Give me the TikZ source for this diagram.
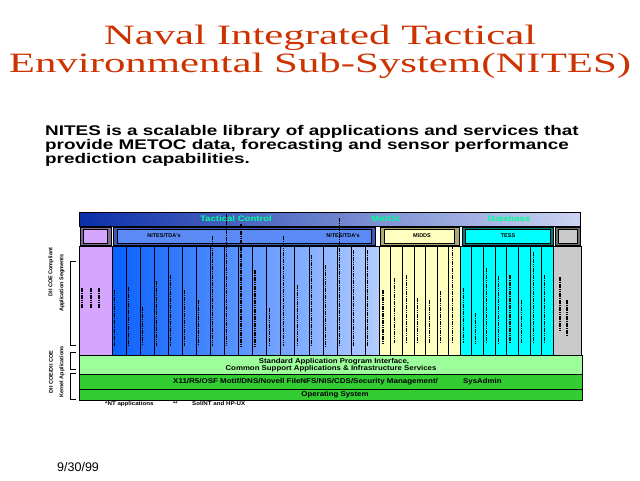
\documentclass[tikz,border=0pt]{standalone}
\usepackage{fontspec}
\setmainfont{Liberation Serif}
\newfontfamily\arialfont{Liberation Sans}
\newcommand{\widen}[2][1.12]{\scalebox{#1}[1]{#2}}
\definecolor{titlered}{HTML}{CC3300}
\definecolor{tcleft}{HTML}{0A2EA8}
\definecolor{tcright}{HTML}{CCD4F2}
\definecolor{tctext}{HTML}{00FF99}
\definecolor{blueleft}{HTML}{0860FF}
\definecolor{blueright}{HTML}{B4CCFF}
\definecolor{bluetab}{HTML}{5B8AF5}
\definecolor{blueframe}{HTML}{3A58B8}
\definecolor{purplecol}{HTML}{D6A6FF}
\definecolor{purpleframe}{HTML}{7F6A95}
\definecolor{yellowcol}{HTML}{FFFFC0}
\definecolor{yellowframe}{HTML}{A8A878}
\definecolor{cyancol}{HTML}{00FFFF}
\definecolor{cyanframe}{HTML}{007C7C}
\definecolor{greycol}{HTML}{CACACA}
\definecolor{greyframe}{HTML}{707070}
\definecolor{lightgreen}{HTML}{9CFF9C}
\definecolor{kgreen}{HTML}{33CC33}
\begin{document}
\begin{tikzpicture}[x=1pt, y=-1pt,
    band/.style={draw, anchor=north west, inner sep=0pt, outer sep=0pt},
    tab/.style={draw, anchor=north west, inner sep=0pt, outer sep=0pt, minimum height=18pt},
    tabin/.style={draw, inner sep=0pt, minimum height=14pt},
    glyph/.style={line width=1.1pt, dash pattern=on 1.6pt off 0.7pt},
    small/.style={inner sep=0pt, font=\arialfont\bfseries\fontsize{7}{8}\selectfont},
    tiny/.style={inner sep=0pt, font=\arialfont\bfseries\fontsize{5.5}{6}\selectfont},
    layer/.style={inner sep=0pt, text=tctext, font=\arialfont\bfseries\fontsize{8}{8}\selectfont},
    heading/.style={anchor=base, text=titlered, inner sep=0pt, font=\fontsize{28}{28}\selectfont},
    para/.style={anchor=base west, inner sep=0pt, font=\arialfont\bfseries\fontsize{14}{14}\selectfont}
]
\useasboundingbox[fill=white] (0,0) rectangle (640,480);

\node[heading] (title1) at (320,44) {\widen[1.53]{Naval Integrated Tactical}};
\node[heading] (title2) at (320,72) {\widen[1.53]{Environmental Sub-System(NITES)}};

\node[para] (para1) at (45,135) {\widen[1.35]{NITES is a scalable library of applications and services that}};
\node[para] (para2) at (45,149) {\widen[1.35]{provide METOC data, forecasting and sensor performance}};
\node[para] (para3) at (45,163) {\widen[1.35]{prediction capabilities.}};

\node[band, minimum width=501pt, minimum height=14pt, left color=tcleft, right color=tcright] (layers) at (79,212) {};
\node[layer] (tc) at (236,218.5) {\widen[1.2]{Tactical Control}};
\node[layer] (metoc) at (386,218.5) {\widen[1.2]{MetOc}};
\node[layer] (dbase) at (509,218.5) {\widen[1.2]{Database}};

\node[tab, fill=purpleframe, minimum width=31pt] (ptab) at (80,227) {};
\node[tabin, fill=purplecol, minimum width=24pt] (pbox) at (ptab.center) {};
\node[tab, fill=blueframe, minimum width=262pt] (btab) at (113,227) {};
\node[tabin, fill=bluetab, minimum width=254pt] (bbox) at (btab.center) {};
\node[tiny] (tda1) at (164,236) {NITES/TDA's};
\node[tiny] (tda2) at (343,236) {NITES/TDA's};
\node[tab, fill=yellowframe, minimum width=79pt] (ytab) at (380,227) {};
\node[tabin, fill=yellowcol, minimum width=70pt] (ybox) at (ytab.center) {};
\node[tiny] (midds) at (422,236) {MIDDS};
\node[tab, fill=cyanframe, minimum width=91pt] (ctab) at (462,227) {};
\node[tabin, fill=cyancol, minimum width=85pt] (cbox) at (ctab.center) {};
\node[tiny] (tess) at (508,236) {TESS};
\node[tab, fill=greyframe, minimum width=25pt] (gtab) at (555,227) {};
\node[tabin, fill=greycol, minimum width=19pt] (gbox) at (gtab.center) {};

\node[band, fill=purplecol, minimum width=33pt, minimum height=109pt] (pcol) at (79,246) {};
\node[band, left color=blueleft, right color=blueright, minimum width=267pt, minimum height=109pt] (bcols) at (112,246) {};
\node[band, fill=yellowcol, minimum width=81pt, minimum height=109pt] (ycols) at (379,246) {};
\node[band, fill=cyancol, minimum width=93pt, minimum height=109pt] (ccols) at (460,246) {};
\node[band, fill=greycol, minimum width=28pt, minimum height=109pt] (gcols) at (553,246) {};
\foreach \i in {1,...,18} \draw ({112+\i*267/19},246) -- ({112+\i*267/19},355);
\foreach \i in {1,...,6} \draw ({379+\i*81/7},246) -- ({379+\i*81/7},355);
\foreach \i in {1,...,7} \draw ({460+\i*93/8},246) -- ({460+\i*93/8},355);

\foreach \x in {82,91,99} \draw[glyph] (\x,288) -- (\x,308);
\foreach \t [count=\i from 0] in {290,287,307,281,275,290,300,236,214,224,270,308,236,285,255,265,218,250,250}
  \draw[glyph] ({114.5+\i*267/19},\t) -- ({114.5+\i*267/19},346);
\foreach \t [count=\i from 0] in {290,278,275,298,300,291,245}
  \draw[glyph] ({383+\i*81/7},\t) -- ({383+\i*81/7},343);
\foreach \t [count=\i from 0] in {288,313,268,276,275,300,252,275}
  \draw[glyph] ({463.5+\i*93/8},\t) -- ({463.5+\i*93/8},343);
\draw[glyph] (560,277) -- (560,330);
\draw[glyph] (567,300) -- (567,335);

\node[band, fill=lightgreen, minimum width=503pt, minimum height=19pt] (api) at (79,355) {};
\node[small] (api1) at (334,362) {\widen{Standard Application Program Interface,}};
\node[small] (api2) at (331,369) {\widen{Common Support Applications \& Infrastructure Services}};
\node[band, fill=kgreen, minimum width=503pt, minimum height=15pt] (services) at (79,374) {};
\node[small, anchor=west] (serv1) at (173,381.5) {\widen[1.14]{X11/R5/OSF Motif/DNS/Novell FileNFS/NIS/CDS/Security Management/}};
\node[small, anchor=west] (serv2) at (463,381.5) {\widen{SysAdmin}};
\node[band, fill=kgreen, minimum width=503pt, minimum height=11pt] (os) at (79,389) {};
\node[small] (osl) at (335,394.5) {\widen{Operating System}};

\node[tiny, anchor=west] (note1) at (105,404) {\widen{*NT applications}};
\node[tiny, anchor=west] (note2) at (173,404) {**};
\node[tiny, anchor=west] (note3) at (192,404) {\widen{Sol/NT and HP-UX}};

\draw (76,261) -- (70,261) -- (70,345) -- (76,345);
\draw (76,352) -- (70,352) -- (70,369) -- (76,369);
\draw (76,373) -- (70,373) -- (70,399) -- (76,399);
\node[tiny, rotate=90] (seg1) at (51,272) {DII COE Compliant};
\node[tiny, rotate=90] (seg2) at (62,283) {Application Segments};
\node[tiny, rotate=90] (kern1) at (51,372) {DII COE/DII COE};
\node[tiny, rotate=90] (kern2) at (62,372) {Kernel Applications};

\node[anchor=base west, inner sep=0pt, font=\arialfont\fontsize{12.5}{12}\selectfont] (date) at (57,471) {9/30/99};
\end{tikzpicture}
\end{document}
